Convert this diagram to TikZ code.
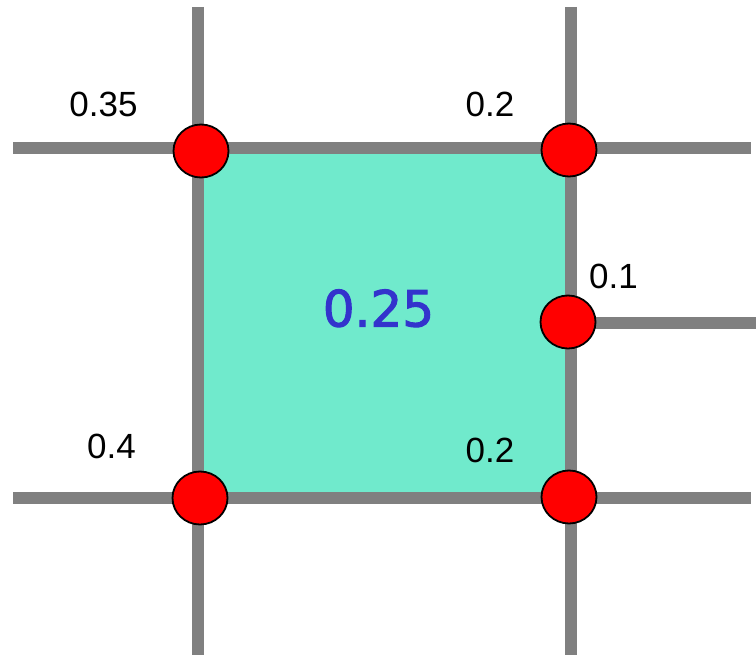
\documentclass[tikz,border=0pt]{standalone}
\usepackage{fontspec}
\usetikzlibrary{shapes.geometric}
\setmainfont{Liberation Sans}
\newfontfamily\bigfont[FakeBold=2]{DejaVu Sans}
\definecolor{gridgray}{RGB}{128,128,128}
\definecolor{cellfill}{RGB}{112,234,204}
\definecolor{valblue}{RGB}{51,51,204}
\begin{document}
\begin{tikzpicture}[x=1bp,y=-1bp,
  gridline/.style={draw=gridgray,line width=12bp},
  vertex/.style={ellipse,draw=black,line width=1.8bp,fill=red,minimum width=55bp,minimum height=53bp,inner sep=0pt},
  val/.style={inner sep=0pt,anchor=base,font=\fontsize{35bp}{40bp}\selectfont},
  bigval/.style={inner sep=0pt,anchor=base,text=valblue,font=\bigfont\fontsize{50bp}{56bp}\selectfont}]
\useasboundingbox (0,0) rectangle (756,655);
% coordinates
\coordinate (v1t) at (198,7);
\coordinate (v1b) at (198,655);
\coordinate (v2t) at (571,7);
\coordinate (v2b) at (571,655);
\coordinate (h1l) at (13,148);
\coordinate (h1r) at (751,148);
\coordinate (h2l) at (13,498);
\coordinate (h2r) at (751,498);
\coordinate (h3l) at (571,323);
\coordinate (h3r) at (756,323);
\coordinate (c1) at (198,148);
\coordinate (c2) at (571,498);
% cell
\fill[cellfill] (c1) rectangle (c2);
% grid lines
\draw[gridline] (v1t) -- (v1b);
\draw[gridline] (v2t) -- (v2b);
\draw[gridline] (h1l) -- (h1r);
\draw[gridline] (h2l) -- (h2r);
\draw[gridline] (h3l) -- (h3r);
% vertices
\node[vertex] (tl) at (201,151) {};
\node[vertex] (tr) at (569,150) {};
\node[vertex] (mr) at (568,322) {};
\node[vertex] (bl) at (200,498) {};
\node[vertex] (br) at (569,497) {};
% labels
\node[val] (ltl) at (103.5,116.5) {0.35};
\node[val] (ltr) at (490,116.5) {0.2};
\node[val] (lmr) at (613.5,288.5) {0.1};
\node[val] (lbl) at (111.5,458.5) {0.4};
\node[val] (lbr) at (490,462.5) {0.2};
\node[bigval] (lc) at (378.5,326.5) {0.25};
\end{tikzpicture}
\end{document}
